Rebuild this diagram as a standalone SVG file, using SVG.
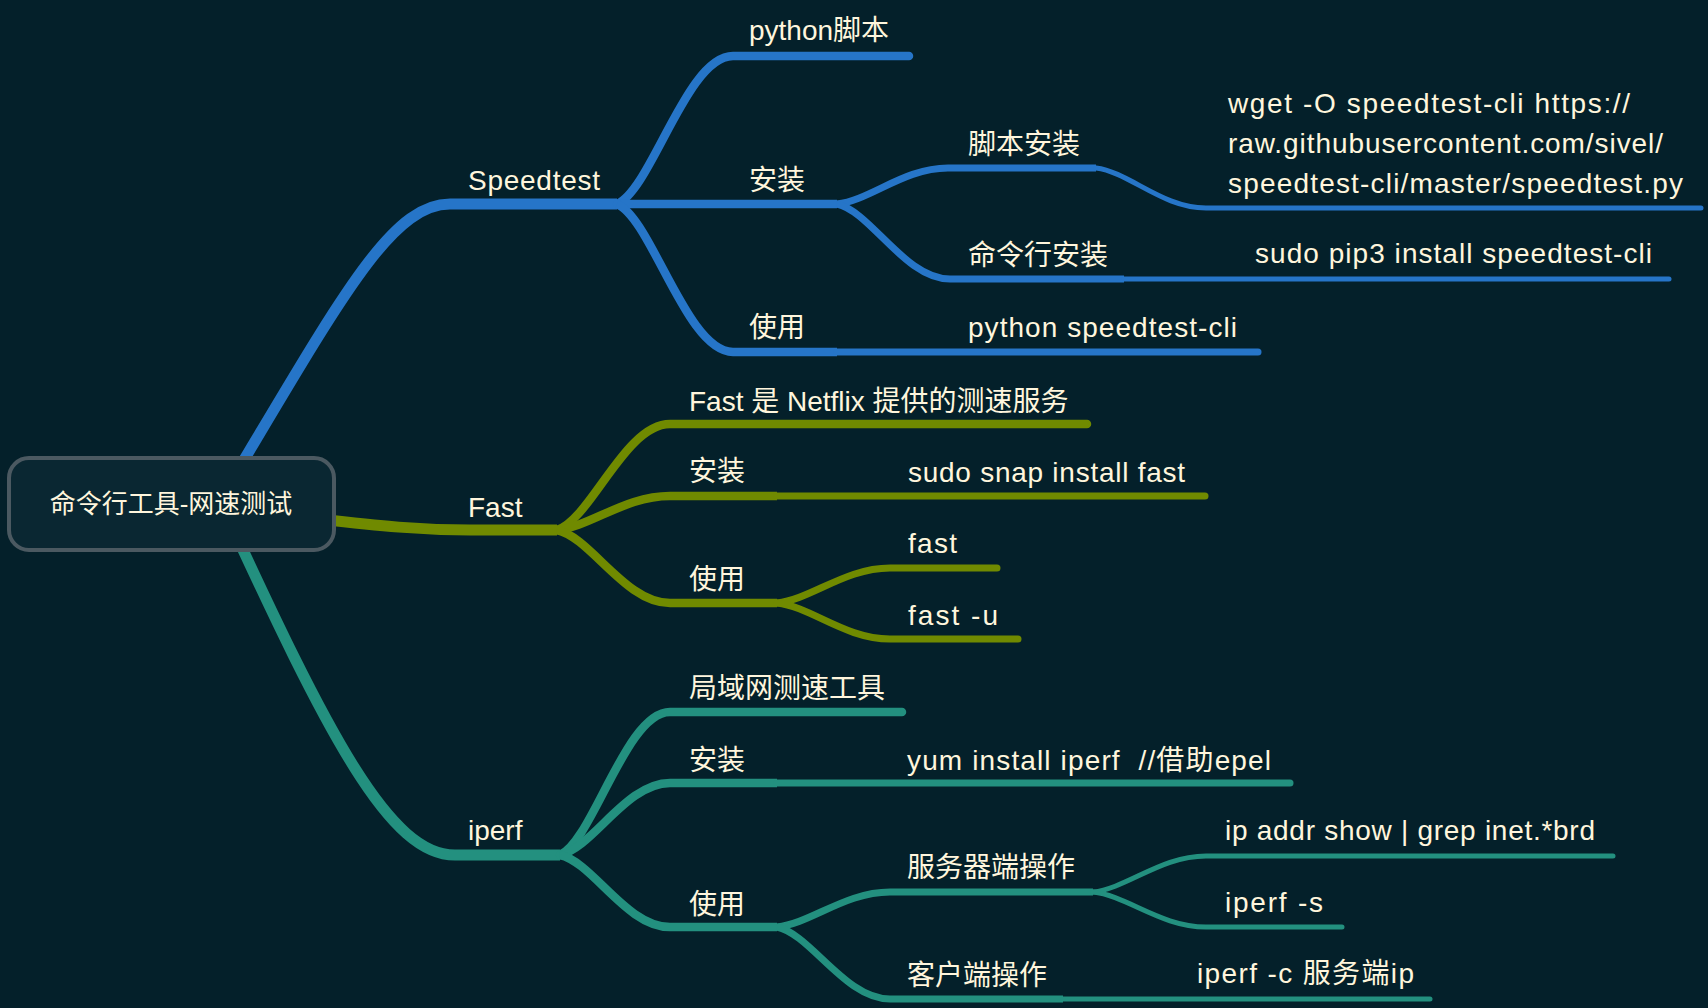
<svg xmlns="http://www.w3.org/2000/svg" width="1708" height="1008" viewBox="0 0 1708 1008">
<defs>
<style>
text{font-family:"Liberation Sans","Noto Sans CJK SC",sans-serif;font-size:28px;fill:#FFF6DD;white-space:pre}
.c{fill:none;stroke-linecap:butt}
.e{fill:none;stroke-linecap:round}
.b{stroke:#2675C8}
.o{stroke:#708A00}
.t{stroke:#23907F}
.w1{stroke-width:11}
.w2{stroke-width:8.5}
.w3{stroke-width:7}
.w4{stroke-width:5}
</style>
</defs>
<rect width="1708" height="1008" fill="#04202A"/>
<g id="connectors">
  <!-- Speedtest -->
  <path class="c b w1" d="M220 500 C340 300 390 204 450 204 L617 204"/>
  <path class="e b w2" d="M617 204 C651.8 189.2 686.6 56 733 56 L909 56"/>
  <path class="c b w2" d="M617 204 L837 204"/>
  <path class="c b w2" d="M617 204 C651.8 218.8 686.6 352 733 352 L837 352"/>
  <path class="e b w3" d="M837 352 L1258 352"/>
  <path class="c b w3" d="M837 204 C870.3 200.4 903.6 168 948 168 L1096 168"/>
  <path class="e b w4" d="M1096 168 C1129 172 1162 208 1206 208 L1701 208"/>
  <path class="c b w3" d="M837 204 C870.9 211.5 904.8 279 950 279 L1124 279"/>
  <path class="e b w4" d="M1124 279 L1669 279"/>
  <!-- Fast -->
  <path class="c o w1" d="M320 519 C380 526 420 530 470 530 L557 530"/>
  <path class="e o w2" d="M557 530 C590.9 519.4 624.8 424 670 424 L1087 424"/>
  <path class="c o w2" d="M557 530 C590.9 526.6 624.8 496 670 496 L777 496"/>
  <path class="e o w3" d="M777 496 L1205 496"/>
  <path class="c o w2" d="M557 530 C590.9 537.3 624.8 603 670 603 L777 603"/>
  <path class="e o w3" d="M777 603 C810.9 599.5 844.8 568 890 568 L997 568"/>
  <path class="e o w3" d="M777 603 C810.9 606.6 844.8 639 890 639 L1018 639"/>
  <!-- iperf -->
  <path class="c t w1" d="M220 500 C330 740 390 855 455 855 L560 855"/>
  <path class="e t w2" d="M560 855 C593 840.7 626 712 670 712 L902 712"/>
  <path class="c t w2" d="M560 855 C593 847.8 626 783 670 783 L777 783"/>
  <path class="e t w3" d="M777 783 L1290 783"/>
  <path class="c t w2" d="M560 855 C593 862.2 626 927 670 927 L777 927"/>
  <path class="c t w3" d="M777 927 C810.9 923.5 844.8 892 890 892 L1093 892"/>
  <path class="e t w4" d="M1093 892 C1126.9 888.4 1160.8 856 1206 856 L1613 856"/>
  <path class="e t w4" d="M1093 892 C1126.9 895.5 1160.8 927 1206 927 L1342 927"/>
  <path class="c t w3" d="M777 927 C810.9 934.2 844.8 999 890 999 L1063 999"/>
  <path class="e t w4" d="M1063 999 L1430 999"/>
</g>
<g id="root">
  <rect x="9" y="458" width="325" height="92" rx="20" fill="#0A2732" stroke="#4B5961" stroke-width="4"/>
  <text x="171" y="513" text-anchor="middle" style="font-size:26px">命令行工具-网速测试</text>
</g>
<g id="speedtest"><text x="468" y="190" textLength="132" lengthAdjust="spacing">Speedtest</text></g>
<g id="st-python"><text x="749" y="40">python脚本</text></g>
<g id="st-install"><text x="749" y="190">安装</text></g>
<g id="st-use"><text x="749" y="337">使用</text></g>
<g id="st-script-install"><text x="968" y="154">脚本安装</text></g>
<g id="st-wget">
  <text x="1228" y="113" textLength="402" lengthAdjust="spacing">wget -O speedtest-cli https://</text>
  <text x="1228" y="153" textLength="435" lengthAdjust="spacing">raw.githubusercontent.com/sivel/</text>
  <text x="1228" y="193" textLength="455" lengthAdjust="spacing">speedtest-cli/master/speedtest.py</text>
</g>
<g id="st-cmd-install"><text x="968" y="265">命令行安装</text></g>
<g id="st-pip"><text x="1255" y="263" textLength="397" lengthAdjust="spacing">sudo pip3 install speedtest-cli</text></g>
<g id="st-run"><text x="968" y="337" textLength="269" lengthAdjust="spacing">python speedtest-cli</text></g>
<g id="fast"><text x="468" y="517">Fast</text></g>
<g id="fast-desc"><text x="689" y="411">Fast 是 Netflix 提供的测速服务</text></g>
<g id="fast-install"><text x="689" y="481">安装</text></g>
<g id="fast-snap"><text x="908" y="482" textLength="277" lengthAdjust="spacing">sudo snap install fast</text></g>
<g id="fast-use"><text x="689" y="589">使用</text></g>
<g id="fast-cmd"><text x="908" y="553" textLength="49" lengthAdjust="spacing">fast</text></g>
<g id="fast-u"><text x="908" y="625" textLength="90" lengthAdjust="spacing">fast -u</text></g>
<g id="iperf"><text x="468" y="840">iperf</text></g>
<g id="iperf-lan"><text x="689" y="698">局域网测速工具</text></g>
<g id="iperf-install"><text x="689" y="770">安装</text></g>
<g id="iperf-yum"><text x="907" y="770" textLength="364" lengthAdjust="spacing">yum install iperf  //借助epel</text></g>
<g id="iperf-use"><text x="689" y="914">使用</text></g>
<g id="iperf-server"><text x="907" y="877">服务器端操作</text></g>
<g id="iperf-ip"><text x="1225" y="840" textLength="370" lengthAdjust="spacing">ip addr show | grep inet.*brd</text></g>
<g id="iperf-s"><text x="1225" y="912" textLength="98" lengthAdjust="spacing">iperf -s</text></g>
<g id="iperf-client"><text x="907" y="985">客户端操作</text></g>
<g id="iperf-c"><text x="1197" y="983" textLength="217" lengthAdjust="spacing">iperf -c 服务端ip</text></g>
</svg>
